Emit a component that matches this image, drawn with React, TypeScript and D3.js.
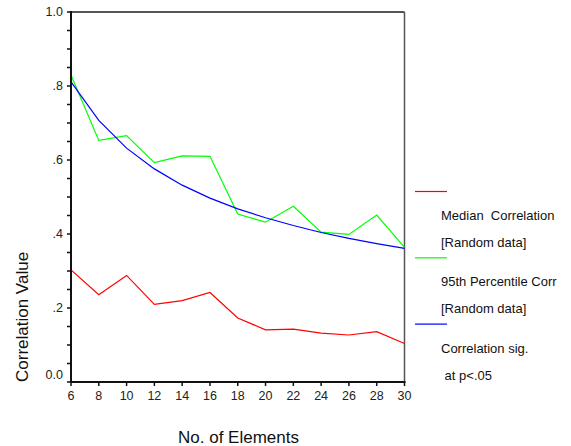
import React from "react";
import * as d3 from "d3";

const elements = [6, 8, 10, 12, 14, 16, 18, 20, 22, 24, 26, 28, 30];
const median = [0.303, 0.236, 0.288, 0.21, 0.22, 0.242, 0.173, 0.141, 0.143, 0.132, 0.127, 0.136, 0.104];
const pct95 = [0.83, 0.653, 0.666, 0.593, 0.611, 0.61, 0.454, 0.432, 0.475, 0.405, 0.399, 0.451, 0.364];
const sig = [0.811, 0.707, 0.632, 0.576, 0.532, 0.497, 0.468, 0.444, 0.423, 0.404, 0.388, 0.374, 0.361];
const yTickLabels = ["0.0", ".2", ".4", ".6", ".8", "1.0"];
const yTickValues = [0, 0.2, 0.4, 0.6, 0.8, 1.0];

const seriesList = [
  { name: ["Median  Correlation", "[Random data]"], values: median, color: "#ff0000" },
  { name: ["95th Percentile Corr", "[Random data]"], values: pct95, color: "#00ff00" },
  { name: ["Correlation sig.", " at p<.05"], values: sig, color: "#0000ff" },
];

export default function App() {
  const W = 571, H = 446;
  const left = 71, right = 404.5, top = 12, bottom = 382;
  const x = d3.scaleLinear().domain([6, 30]).range([left, right]);
  const y = d3.scaleLinear().domain([0, 1]).range([bottom, top]);
  const line = d3.line<number>().x((_, i) => x(elements[i])).y((d) => y(d));
  const minor = d3.range(0, 1.0001, 0.05);
  const font = "Arial, 'Liberation Sans', sans-serif";

  return (
    <svg width={W} height={H} style={{ position: "absolute", left: 0, top: 0, background: "#fff" }} fontFamily={font}>
      <rect x={0} y={0} width={W} height={H} fill="#fff" />
      {/* frame */}
      <line x1={left} x2={right} y1={top} y2={top} stroke="#555" strokeWidth={2} />
      <line x1={right} x2={right} y1={top} y2={bottom} stroke="#555" strokeWidth={1.5} />
      {/* series */}
      {seriesList.map((s, i) => (
        <path key={i} d={line(s.values) || ""} fill="none" stroke={s.color} strokeWidth={1.2} />
      ))}
      {/* y axis */}
      <line x1={left} x2={left} y1={top - 1} y2={bottom + 1} stroke="#111" strokeWidth={2} />
      {minor.map((v, i) => (
        <line key={i} x1={left - 4} x2={left} y1={y(v)} y2={y(v)} stroke="#111" strokeWidth={1.5} />
      ))}
      {yTickValues.map((v, i) => (
        <text key={i} x={63} y={y(v) - (v === 0 ? 7 : 0)} dy="0.35em" textAnchor="end" fontSize={12.5} fill="#222">
          {yTickLabels[i]}
        </text>
      ))}
      {/* x axis */}
      <line x1={left - 1} x2={right + 1} y1={bottom} y2={bottom} stroke="#111" strokeWidth={2} />
      {elements.map((e, i) => (
        <g key={i}>
          <line x1={x(e)} x2={x(e)} y1={bottom} y2={bottom + 4} stroke="#111" strokeWidth={1.5} />
          <text x={x(e)} y={399.5} textAnchor="middle" fontSize={12.5} fill="#222">
            {e}
          </text>
        </g>
      ))}
      <text x={238.5} y={443} textAnchor="middle" fontSize={17} fill="#111">
        No. of Elements
      </text>
      <text transform={`translate(28,382) rotate(-90)`} textAnchor="start" fontSize={17} fill="#111">
        Correlation Value
      </text>
      {/* legend */}
      {seriesList.map((s, i) => {
        const ly = 191.5 + i * 66.3;
        return (
          <g key={i}>
            <line x1={415} x2={447} y1={ly} y2={ly} stroke={s.color} strokeWidth={1.2} />
            <text x={441} y={ly + 24} dy="0.35em" fontSize={13} fill="#111" style={{ whiteSpace: "pre" }}>
              {s.name[0]}
            </text>
            <text x={441} y={ly + 51} dy="0.35em" fontSize={13} fill="#111" style={{ whiteSpace: "pre" }}>
              {s.name[1]}
            </text>
          </g>
        );
      })}
    </svg>
  );
}
